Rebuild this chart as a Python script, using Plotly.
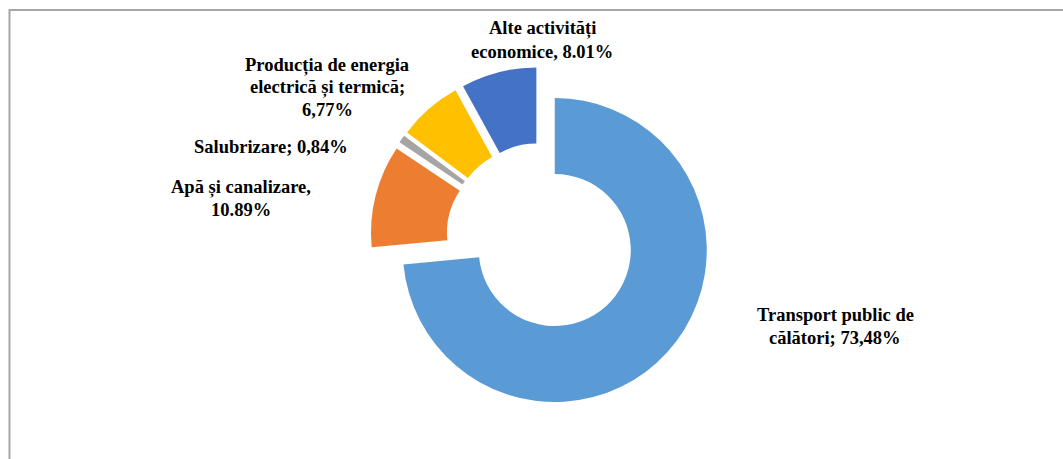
import plotly.graph_objects as go

# ---- data ----
categories = [
    "Transport public de călători",
    "Apă și canalizare",
    "Salubrizare",
    "Producția de energia electrică și termică",
    "Alte activități economice",
]
values = [73.48, 10.89, 0.84, 6.77, 8.01]
value_labels = ["73,48%", "10.89%", "0,84%", "6,77%", "8.01%"]
label_texts = [
    "Transport public de<br>călători; 73,48%",
    "Apă și canalizare,<br>10.89%",
    "Salubrizare; 0,84%",
    "Producția de energia<br>electrică și termică;<br>6,77%",
    "Alte activități<br>economice, 8.01%",
]
colors = ["#5B9BD5", "#ED7D31", "#A5A5A5", "#FFC000", "#4472C4"]

W, H = 1063, 459
cx, cy = 541, 237.5       # pie centre in pixels (from top-left)
R = 152                   # slice outer radius in px
pull = 0.1224
half = R * (1 + pull)

fig = go.Figure(
    go.Pie(
        labels=categories,
        values=values,
        sort=False,
        direction="clockwise",
        rotation=0,
        hole=0.5,
        pull=[pull] * len(values),
        marker=dict(colors=colors, line=dict(width=0)),
        textinfo="none",
        hoverinfo="label+percent",
        showlegend=False,
        domain=dict(
            x=[(cx - half) / W, (cx + half) / W],
            y=[(H - cy - half) / H, (H - cy + half) / H],
        ),
    )
)

# label positions in pixels: centre x, y of first line; line step
label_pos = [(835, 315), (241, 187), (271, 147), (327, 65), (542, 29)]
line_step = 22.5
for txt, (px, py) in zip(label_texts, label_pos):
    for i, line in enumerate(txt.split("<br>")):
        fig.add_annotation(
            x=px / W, y=1 - (py + i * line_step) / H, xref="paper", yref="paper",
            text="<b>" + line + "</b>", showarrow=False,
            xanchor="center", yanchor="middle", align="center",
            font=dict(family="Liberation Serif", size=18.5, color="#000000"),
        )

# chart-area border
fig.add_shape(
    type="rect", xref="paper", yref="paper",
    x0=9.5 / W, x1=1.02, y0=-0.02, y1=1 - 10 / H,
    line=dict(color="#A6A6A6", width=2),
)

fig.update_layout(
    width=W, height=H,
    margin=dict(l=0, r=0, t=0, b=0),
    paper_bgcolor="white", plot_bgcolor="white",
)

fig.write_html(
    "out.html",
    config={"displayModeBar": False},
    post_script="document.body.style.margin='0';",
)
